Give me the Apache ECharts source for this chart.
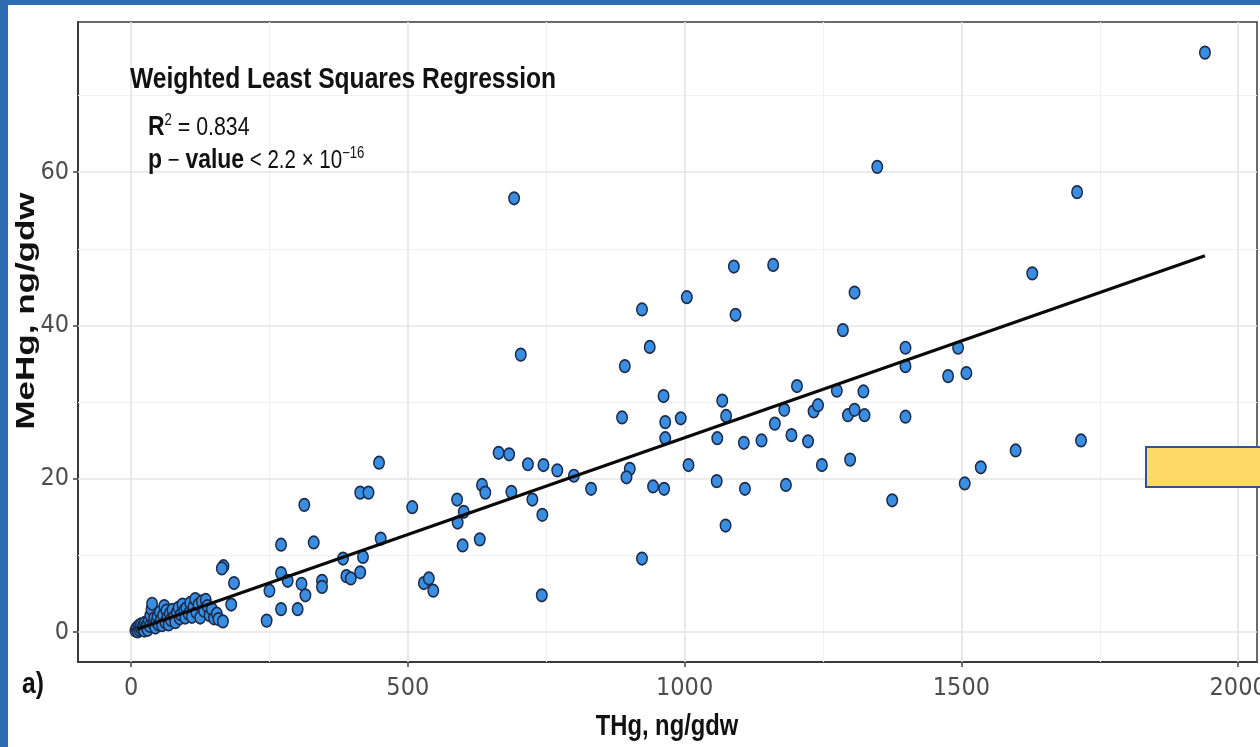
<!DOCTYPE html>
<html>
<head>
<meta charset="utf-8">
<script src="https://cdn.jsdelivr.net/npm/echarts@6/dist/echarts.min.js"></script>
<style>
html,body{margin:0;padding:0;background:#fff;}
#chart{width:1260px;height:747px;}
</style>
</head>
<body>
<div id="chart"></div>
<script>
// ---- data ----
const thgValues = [
  8,10,12,14,15,17,18,20,22,24,25,27,29,30,32,34,35,37,38,40,42,44,46,48,50,52,54,56,58,60,62,64,66,68,70,72,75,78,80,83,86,88,90,93,96,98,100,104,107,110,113,116,118,122,125,128,132,135,138,142,146,150,155,
  313,271,330,167,164,186,181,271,283,250,308,315,345,345,271,301,245,158,166,
  704,448,414,429,508,664,683,717,745,770,800,634,640,687,589,601,590,725,743,831,451,599,630,383,419,414,389,397,529,538,546,742,
  1089,1160,1004,1307,923,1092,937,1286,892,1399,1399,962,1203,1275,1323,1068,887,965,993,1075,1180,1233,1241,1295,1307,1325,1399,965,1059,1163,1107,1139,1193,1223,901,895,1007,1248,1299,943,963,1058,1109,1183,1375,1074,923,
  1709,1628,1494,1476,1509,1716,1598,1535,1506,
  1348,1940,692
];
const mehgValues = [
  0.2,0.5,0.1,0.8,0.3,0.6,1.0,0.4,0.9,0.2,1.2,0.7,1.0,0.3,1.5,0.8,2.2,3.0,3.7,1.1,1.8,0.6,1.4,2.0,1.0,2.6,1.6,0.9,2.2,3.4,1.3,2.8,1.9,1.0,2.4,1.6,2.9,2.0,1.3,2.6,3.2,1.8,2.3,3.6,2.8,1.9,3.1,2.4,3.8,2.0,3.3,4.3,2.6,3.6,1.9,4.0,2.8,4.2,3.4,2.2,3.0,1.8,2.4,
  16.6,11.4,11.7,8.6,8.3,6.4,3.6,7.7,6.7,5.4,6.3,4.8,6.7,5.9,3.0,3.0,1.5,1.7,1.4,
  36.2,22.1,18.2,18.2,16.3,23.4,23.2,21.9,21.8,21.1,20.4,19.2,18.2,18.3,17.3,15.7,14.3,17.3,15.3,18.7,12.2,11.3,12.1,9.6,9.8,7.8,7.3,7.0,6.4,7.0,5.4,4.8,
  47.7,47.9,43.7,44.3,42.1,41.4,37.2,39.4,34.7,37.1,34.7,30.8,32.1,31.5,31.4,30.2,28.0,27.4,27.9,28.2,29.0,28.8,29.6,28.3,29.0,28.3,28.1,25.3,25.3,27.2,24.7,25.0,25.7,24.9,21.3,20.2,21.8,21.8,22.5,19.0,18.7,19.7,18.7,19.2,17.2,13.9,9.6,
  57.4,46.8,37.1,33.4,33.8,25.0,23.7,21.5,19.4,
  60.7,75.6,56.6
];
// weighted least squares fit line end points (as drawn)
const fitThg = [12, 1940];
const fitMehg = [0.4, 49.1];
// axis ticks
const xMajorTicks = [0, 500, 1000, 1500, 2000];
const xMinorTicks = [250, 750, 1250, 1750];
const yMajorTicks = [0, 20, 40, 60];
const yMinorTicks = [10, 30, 50, 70];
// texts
const titleText = 'Weighted Least Squares Regression';
const r2Value = '0.834';
const pValueText = '2.2';
const pExponent = '\u221216';
const xTitle = 'THg, ng/gdw';
const yTitle = 'MeHg, ng/gdw';
const panelTag = 'a)';

// ---- build ----
const points = thgValues.map((v, i) => [v, mehgValues[i]]);
const fitLine = fitThg.map((v, i) => [v, fitMehg[i]]);
const NARROW = "'Liberation Sans Narrow','Arial Narrow','DejaVu Sans Condensed','Liberation Sans',sans-serif";
const ARIAL = "'Liberation Sans',Arial,sans-serif";

const gridLines = []
  .concat(xMinorTicks.map(v => ({xAxis: v, lineStyle: {color: '#f1f1f1', width: 1.2, type: 'solid'}})))
  .concat(yMinorTicks.map(v => ({yAxis: v, lineStyle: {color: '#f1f1f1', width: 1.2, type: 'solid'}})))
  .concat(xMajorTicks.map(v => ({xAxis: v, lineStyle: {color: '#e4e4e4', width: 1.6, type: 'solid'}})))
  .concat(yMajorTicks.map(v => ({yAxis: v, lineStyle: {color: '#e4e4e4', width: 1.6, type: 'solid'}})));

const chart = echarts.init(document.getElementById('chart'), null, {renderer: 'canvas'});
chart.setOption({
  animation: false,
  backgroundColor: '#ffffff',
  grid: {left: 78, top: 22, right: 3, bottom: 85, containLabel: false, outerBoundsMode: 'none',
         show: true, borderColor: '#3a3a3a', borderWidth: 1.5, backgroundColor: 'transparent'},
  xAxis: {
    type: 'value', min: -95.8, max: 2034,
    axisLine: {show: true, onZero: false, lineStyle: {color: '#3a3a3a', width: 2}},
    axisTick: {show: true, length: 5, customValues: xMajorTicks, lineStyle: {color: '#444', width: 1.5}},
    axisLabel: {customValues: xMajorTicks, formatter: v => String(v), color: '#4d4d4d', fontSize: 25, fontFamily: NARROW, margin: 14,
                showMinLabel: true, showMaxLabel: true, hideOverlap: false},
    splitLine: {show: false}
  },
  yAxis: {
    type: 'value', min: -3.9, max: 79.6,
    axisLine: {show: true, onZero: false, lineStyle: {color: '#3a3a3a', width: 2}},
    axisTick: {show: true, length: 5, customValues: yMajorTicks, lineStyle: {color: '#444', width: 1.5}},
    axisLabel: {customValues: yMajorTicks, formatter: v => String(v), color: '#4d4d4d', fontSize: 25, fontFamily: NARROW, margin: 9},
    splitLine: {show: false}
  },
  series: [
    {
      type: 'scatter', data: [], silent: true,
      markLine: {silent: true, symbol: 'none', z: 1, animation: false, label: {show: false}, emphasis: {disabled: true}, data: gridLines}
    },
    {
      type: 'scatter', data: points, z: 3, silent: true,
      symbol: 'circle', symbolSize: [10.5, 12.5],
      itemStyle: {color: '#3a8ee2', borderColor: '#1c2b4a', borderWidth: 1.6, opacity: 1}
    },
    {
      type: 'line', data: fitLine, z: 4, silent: true, symbol: 'none',
      lineStyle: {color: '#0a0a0a', width: 3.2}
    }
  ],
  graphic: [
    {type: 'rect', left: 0, top: 0, shape: {width: 8, height: 747}, style: {fill: '#2e6cb2'}, z: 100},
    {type: 'rect', left: 0, top: 0, shape: {width: 1260, height: 5}, style: {fill: '#2e6cb2'}, z: 100},
    {type: 'rect', x: 1146, y: 447, shape: {width: 130, height: 40}, style: {fill: '#ffd966', stroke: '#2f5597', lineWidth: 2}, z: 100},
    {type: 'text', x: 130, y: 80, scaleX: 0.82, z: 100,
     style: {text: titleText, font: 'bold 30px ' + ARIAL, fill: '#111', textAlign: 'left', verticalAlign: 'middle'}},
    {type: 'text', x: 148, y: 141, scaleX: 0.82, z: 100,
     style: {text: '{rb|R}{sup|2}{n| = ' + r2Value + '}', textAlign: 'left', verticalAlign: 'bottom', fill: '#111',
       rich: {
         rb: {font: 'bold 28px ' + ARIAL, fill: '#111', verticalAlign: 'bottom'},
         sup: {font: '16px ' + ARIAL, fill: '#111', verticalAlign: 'top'},
         n: {font: '26px ' + ARIAL, fill: '#111', verticalAlign: 'bottom'}
       }}},
    {type: 'text', x: 148, y: 174, scaleX: 0.82, z: 100,
     style: {text: '{b|p}{n| \u2212 }{b|value}{n| < ' + pValueText + ' \u00d7 10}{sup|' + pExponent + '}', textAlign: 'left', verticalAlign: 'bottom', fill: '#111',
       rich: {
         b: {font: 'bold 28px ' + ARIAL, fill: '#111', verticalAlign: 'bottom'},
         n: {font: '25px ' + ARIAL, fill: '#111', verticalAlign: 'bottom'},
         sup: {font: '16px ' + ARIAL, fill: '#111', verticalAlign: 'top'}
       }}},
    {type: 'text', x: 22, y: 685, scaleX: 0.82, z: 100,
     style: {text: panelTag, font: 'bold 30px ' + ARIAL, fill: '#111', textAlign: 'left', verticalAlign: 'middle'}},
    {type: 'text', x: 667, y: 727, scaleX: 0.82, z: 100,
     style: {text: xTitle, font: 'bold 29px ' + ARIAL, fill: '#111', textAlign: 'center', verticalAlign: 'middle'}},
    {type: 'text', x: 27, y: 311, rotation: Math.PI / 2, scaleY: 0.72, z: 100,
     style: {text: yTitle, font: 'bold 35px ' + ARIAL, fill: '#111', textAlign: 'center', verticalAlign: 'middle'}}
  ]
});
</script>
</body>
</html>
